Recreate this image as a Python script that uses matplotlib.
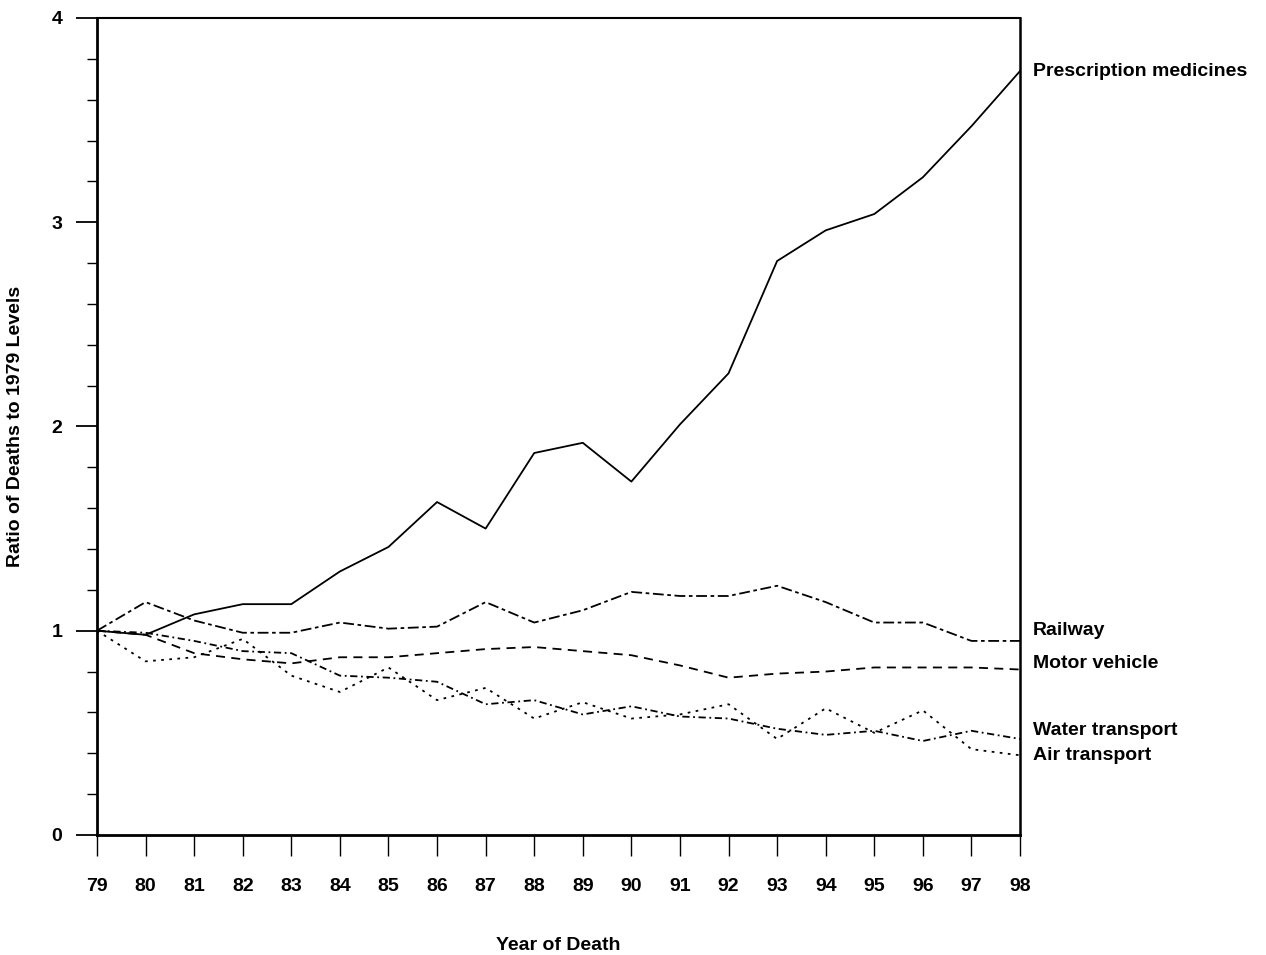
import numpy as np
import matplotlib
matplotlib.use("Agg")
import matplotlib.pyplot as plt
from matplotlib.ticker import MultipleLocator

plt.rcParams["font.family"] = ["Liberation Sans Narrow", "Liberation Sans", "DejaVu Sans"]
plt.rcParams["font.weight"] = "bold"

years = list(range(79, 99))
year_labels = [str(y) for y in years]

prescription = [1.00, 0.98, 1.08, 1.13, 1.13, 1.29, 1.41, 1.63, 1.50, 1.87,
                1.92, 1.73, 2.01, 2.26, 2.81, 2.96, 3.04, 3.22, 3.47, 3.74]
railway = [1.00, 1.14, 1.05, 0.99, 0.99, 1.04, 1.01, 1.02, 1.14, 1.04,
           1.10, 1.19, 1.17, 1.17, 1.22, 1.14, 1.04, 1.04, 0.95, 0.95]
motor = [1.00, 0.98, 0.89, 0.86, 0.84, 0.87, 0.87, 0.89, 0.91, 0.92,
         0.90, 0.88, 0.83, 0.77, 0.79, 0.80, 0.82, 0.82, 0.82, 0.81]
water = [1.00, 0.99, 0.95, 0.90, 0.89, 0.78, 0.77, 0.75, 0.64, 0.66,
         0.59, 0.63, 0.58, 0.57, 0.52, 0.49, 0.51, 0.46, 0.51, 0.47]
air = [1.00, 0.85, 0.87, 0.96, 0.78, 0.70, 0.82, 0.66, 0.72, 0.57,
       0.65, 0.57, 0.59, 0.64, 0.47, 0.62, 0.50, 0.61, 0.42, 0.39]

series = [
    ("Prescription medicines", prescription, "-", 3.74),
    ("Railway", railway, (0, (6, 2, 2, 2)), 1.00),
    ("Motor vehicle", motor, (0, (5, 3.5)), 0.84),
    ("Water transport", water, (0, (4, 2, 1, 2)), 0.51),
    ("Air transport", air, (0, (1.5, 3)), 0.39),
]

fig = plt.figure(figsize=(12.66, 9.55), dpi=100)
ax = fig.add_axes([0.0766, 0.1257, 0.7291, 0.8555])

for name, vals, ls, ylab in series:
    ax.plot(years, vals, color="black", linestyle=ls, linewidth=1.3)
    ax.annotate(name, xy=(1.0, ylab), xycoords=("axes fraction", "data"),
                xytext=(9, 0), textcoords="offset points",
                ha="left", va="center", fontsize=14, fontweight="bold",
                annotation_clip=False)

ax.set_xlim(79, 98)
ax.set_ylim(0, 4)
ax.set_xticks(years)
ax.set_xticklabels(year_labels)
ax.yaxis.set_major_locator(MultipleLocator(1))
ax.yaxis.set_minor_locator(MultipleLocator(0.2))
ax.tick_params(axis="x", direction="out", length=15, width=1.0, labelsize=14, pad=16)
ax.tick_params(axis="y", which="major", direction="out", length=15, width=1.3, labelsize=14, pad=10)
ax.tick_params(axis="y", which="minor", direction="out", length=7, width=1.0)
for lab in ax.get_xticklabels() + ax.get_yticklabels():
    lab.set_fontweight("bold")

for side, lw in [("left", 2.0), ("bottom", 2.0), ("top", 1.5), ("right", 1.8)]:
    ax.spines[side].set_linewidth(lw)
    ax.spines[side].set_color("black")

ax.set_xlabel("Year of Death", fontsize=14, fontweight="bold", labelpad=30)
ax.set_ylabel("Ratio of Deaths to 1979 Levels", fontsize=14, fontweight="bold", labelpad=20)

fig.savefig("out.png", dpi=100)
